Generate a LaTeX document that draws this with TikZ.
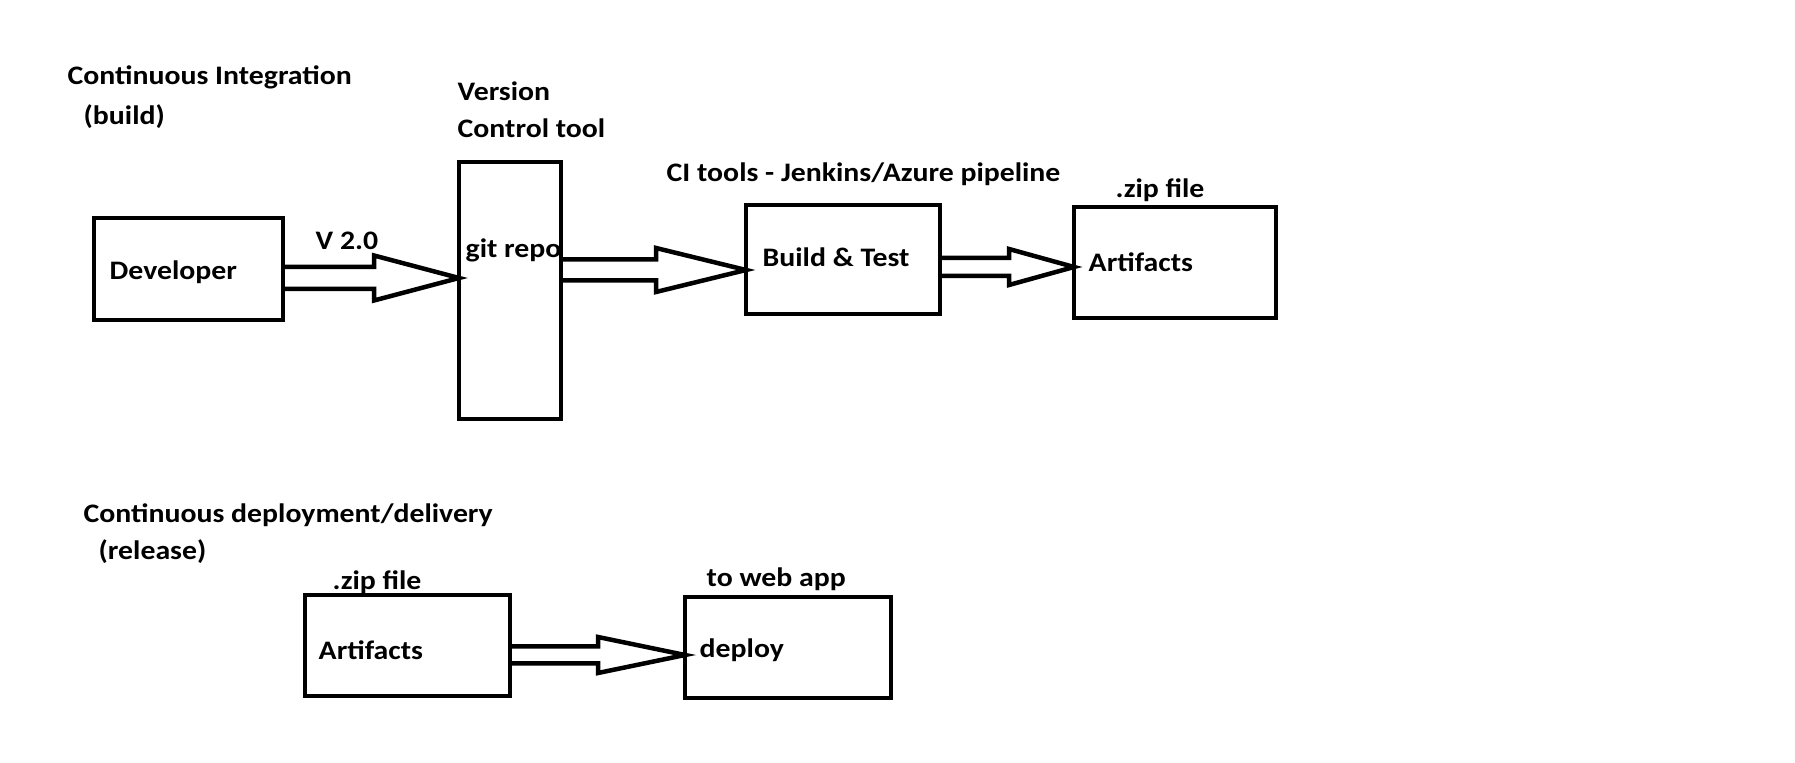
\documentclass[tikz,border=0pt]{standalone}
\usepackage{fontspec}
\setmainfont{Carlito}[FakeStretch=1.115]
\usetikzlibrary{calc}

\tikzset{
  box/.style={draw, line width=0.045cm, inner sep=0pt, outer sep=0pt},
  lbl/.style={anchor=base west, inner sep=0pt, font=\fontsize{7.6}{9.1}\selectfont\bfseries},
  fat/.style={draw, line width=0.045cm, line join=miter},
}

% hollow block arrow: from, to, y, half shaft, half head, head length
\newcommand{\blockarrow}[6]{%
  \coordinate (tip) at (#2.west |- 0,#3);
  \draw[fat] ($(#1.east |- tip)+(0,-#4)$) -- ($(tip)+(-#6,-#4)$) -- ($(tip)+(-#6,-#5)$) -- (tip)
    -- ($(tip)+(-#6,#5)$) -- ($(tip)+(-#6,#4)$) -- ($(#1.east |- tip)+(0,#4)$);
}

\begin{document}
\begin{tikzpicture}[x=1cm, y=-1cm]
    \fill[white] (0,0) rectangle (17.95,7.63);
    \useasboundingbox (0,0) rectangle (17.95,7.63);

    % Build stage
    \node[lbl] (cititle) at (0.67,0.85) {Continuous Integration};
    \node[lbl] (buildtitle) at (0.83,1.25) {(build)};

    \node[box, minimum width=1.89cm, minimum height=1.02cm] (dev) at (1.885,2.69) {};
    \node[lbl] (devtext) at (1.09,2.80) {Developer};

    \node[box, minimum width=1.02cm, minimum height=2.57cm] (git) at (5.10,2.905) {};
    \node[lbl] (gittext) at (4.65,2.58) {git repo};
    \node[lbl] (vcs1) at (4.57,1.01) {Version};
    \node[lbl] (vcs2) at (4.57,1.38) {Control tool};

    \node[box, minimum width=1.94cm, minimum height=1.09cm] (build) at (8.43,2.595) {};
    \node[lbl] (buildtext) at (7.62,2.67) {Build \& Test};
    \node[lbl] (citools) at (6.66,1.82) {CI tools - Jenkins/Azure pipeline};

    \node[box, minimum width=2.02cm, minimum height=1.11cm] (art) at (11.75,2.625) {};
    \node[lbl] (arttext) at (10.88,2.72) {Artifacts};
    \node[lbl] (zip) at (11.15,1.98) {.zip file};

    % Arrows
    \blockarrow{dev}{git}{2.78}{0.11}{0.225}{0.85}
    \node[lbl] (ver) at (3.15,2.50) {V 2.0};
    \blockarrow{git}{build}{2.70}{0.105}{0.22}{0.90}
    \blockarrow{build}{art}{2.67}{0.09}{0.18}{0.65}

    % Release stage
    \node[lbl] (cdtitle) at (0.83,5.23) {Continuous deployment/delivery};
    \node[lbl] (reltitle) at (0.98,5.60) {(release)};

    \node[box, minimum width=2.05cm, minimum height=1.01cm] (art2) at (4.075,6.455) {};
    \node[lbl] (art2text) at (3.18,6.60) {Artifacts};
    \node[lbl] (zip2) at (3.32,5.90) {.zip file};

    \node[box, minimum width=2.06cm, minimum height=1.01cm] (deploy) at (7.88,6.475) {};
    \node[lbl] (deploytext) at (6.99,6.58) {deploy};
    \node[lbl] (webapp) at (7.06,5.87) {to web app};

    \blockarrow{art2}{deploy}{6.55}{0.085}{0.18}{0.87}
\end{tikzpicture}
\end{document}
